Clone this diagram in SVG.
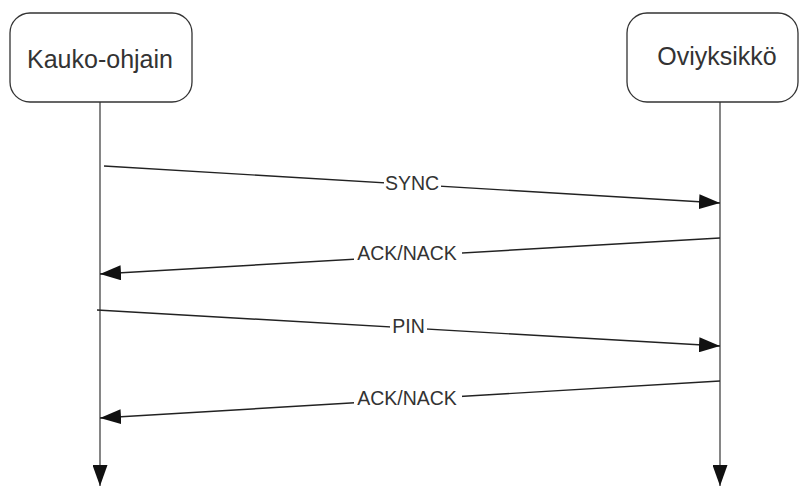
<svg xmlns="http://www.w3.org/2000/svg" width="799" height="486" viewBox="0 0 799 486">
  <style>
    .box { fill: #ffffff; stroke: #333333; stroke-width: 1.3; }
    .name { font-family: "Liberation Sans", Arial, sans-serif; font-size: 25px; fill: #333333; text-anchor: middle; }
    .msg { stroke: #222222; stroke-width: 1.4; fill: none; marker-end: url(#arrow); }
    .life { stroke: #444444; stroke-width: 1.3; fill: none; marker-end: url(#arrow); }
    .label { font-family: "Liberation Sans", Arial, sans-serif; font-size: 19.5px; fill: #333333; text-anchor: middle; }
    .bg { fill: #ffffff; }
  </style>
  <defs>
    <marker id="arrow" markerWidth="21" markerHeight="15" refX="21" refY="7.5" orient="auto" markerUnits="userSpaceOnUse">
      <path d="M0,0 L21,7.5 L0,15 Z" fill="#111111"/>
    </marker>
  </defs>
  <rect width="799" height="486" fill="#ffffff"/>

  <g id="connectors">
    <!-- lifelines -->
    <line class="life" x1="100" y1="102" x2="100" y2="486"/>
    <line class="life" x1="720" y1="102" x2="720" y2="486"/>
    <!-- messages -->
    <line class="msg" x1="104" y1="166" x2="720" y2="203"/>
    <line class="msg" x1="720" y1="238" x2="100" y2="274"/>
    <line class="msg" x1="97" y1="310" x2="720" y2="346"/>
    <line class="msg" x1="720" y1="381" x2="100" y2="418"/>
    <!-- message labels on white gaps -->
    <rect class="bg" x="384" y="174" width="57" height="22"/>
    <text class="label" x="412" y="190">SYNC</text>
    <rect class="bg" x="354" y="244" width="108" height="22"/>
    <text class="label" x="407" y="260">ACK/NACK</text>
    <rect class="bg" x="390" y="317" width="37" height="22"/>
    <text class="label" x="408.5" y="333">PIN</text>
    <rect class="bg" x="354" y="389" width="108" height="22"/>
    <text class="label" x="407" y="405">ACK/NACK</text>
  </g>

  <g id="kauko-ohjain">
    <rect class="box" x="10" y="13" width="182" height="89" rx="20" ry="20"/>
    <text class="name" x="100" y="68">Kauko-ohjain</text>
  </g>

  <g id="oviyksikko">
    <rect class="box" x="627" y="13" width="171" height="89" rx="20" ry="20"/>
    <text class="name" x="717" y="65">Oviyksikkö</text>
  </g>
</svg>
